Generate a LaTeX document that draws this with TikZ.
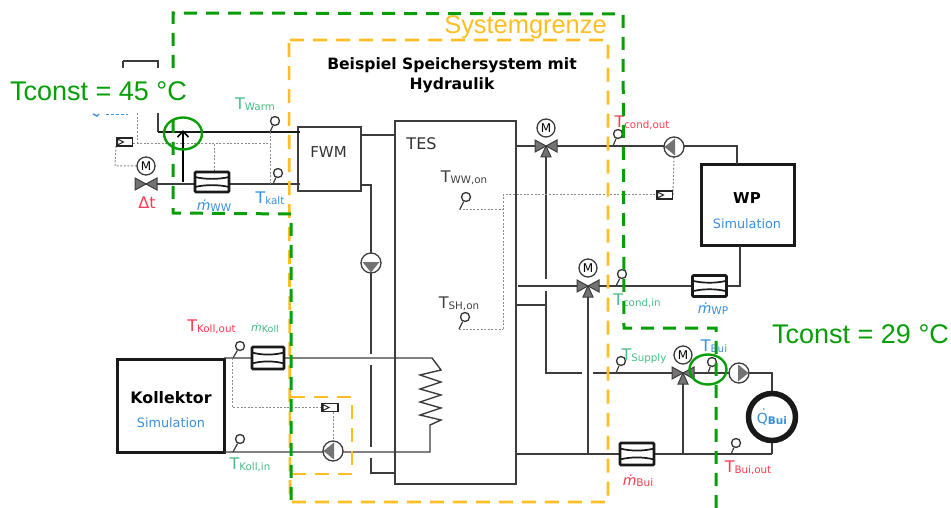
\documentclass[tikz,border=0pt]{standalone}
\usepackage{fontspec}
\setmainfont{DejaVu Sans}
\newfontfamily\arialf{Liberation Sans}
\usetikzlibrary{arrows.meta,shapes.geometric}
\definecolor{grn}{HTML}{089E08}
\definecolor{org}{HTML}{FFBE22}
\definecolor{lred}{HTML}{FF3A50}
\definecolor{lgrn}{HTML}{46BE86}
\definecolor{lblu}{HTML}{3A8FDC}
\definecolor{pipec}{HTML}{3C3C3C}
\tikzset{
  x=1pt,y=-1pt,
  pipe/.style={draw=pipec,line width=1.4pt},
  boldpipe/.style={draw=black!90,line width=2.2pt},
  signal/.style={draw=black!45,line width=1pt,dash pattern=on 2pt off 1.6pt},
  bigbox/.style={draw=black!90,line width=3pt,fill=white,inner sep=0pt},
  thinbox/.style={draw=pipec,line width=1.5pt,fill=white,inner sep=0pt},
  sensorhead/.style={circle,draw=black!80,line width=1.3pt,fill=white,minimum size=9pt,inner sep=0pt},
  pumpc/.style={circle,draw=pipec,line width=1.3pt,fill=white,minimum size=20pt,inner sep=0pt},
  motor/.style={circle,draw=pipec,line width=1.3pt,fill=white,minimum size=18pt,inner sep=0pt,font=\fontsize{12}{12}\selectfont},
  flowb/.style={draw=black!90,line width=2.6pt,fill=white,rounded corners=1pt,inner sep=0pt},
  ctrl/.style={draw=black!85,line width=1.3pt,fill=white,minimum width=16pt,minimum height=8pt,inner sep=0pt},
  greenline/.style={draw=grn,line width=3pt,dash pattern=on 13pt off 9pt},
  orangeline/.style={draw=org,line width=2.6pt,dash pattern=on 14pt off 9pt},
  lab/.style={inner sep=0pt,anchor=center},
  tconst/.style={inner sep=0pt,text=grn,font=\arialf\fontsize{27}{27}\selectfont},
  boxlab/.style={inner sep=0pt,font=\fontsize{12.8}{12.8}\selectfont,text=lblu},
}
\newcommand{\Tlab}[5]{\node[lab,text=#4] (#1) at (#2,#3) {\fontsize{16}{16}\selectfont T\fontsize{10.3}{10.3}\selectfont\raisebox{-1pt}{#5}};}
\newcommand{\Mlab}[5]{\node[lab,text=#4] (#1) at (#2,#3) {\fontsize{14}{14}\selectfont\itshape ṁ\upshape\fontsize{10.5}{10.5}\selectfont\raisebox{-1pt}{#5}};}
\newcommand{\Mlabs}[5]{\node[lab,text=#4] (#1) at (#2,#3) {\fontsize{11}{11}\selectfont\itshape ṁ\upshape\fontsize{9.5}{9.5}\selectfont\raisebox{-1pt}{#5}};}
\newcommand{\senso}[5]{\node[sensorhead] (#1) at (#2,#3) {};\coordinate (#1f) at (#4,#5);\draw[pipe,line width=1.2pt] (#1) -- (#1f);}
\newcommand{\pumpe}[4]{\node[pumpc] (#1) at (#2,#3) {};
  \fill[black!55,rotate around={#4:(#2,#3)}] (#2-9.5,#3) -- (#2+1,#3-8.5) -- (#2+1,#3+8.5) -- cycle;}
\newcommand{\durchfl}[5]{\node[flowb,minimum width=#4pt,minimum height=#5pt] (#1) at (#2,#3) {};
  \draw[black!90,line width=1.7pt] (#2-#4/2,#3-#5/4) .. controls (#2-#4/5,#3-#5/8) and (#2+#4/5,#3-#5/8) .. (#2+#4/2,#3-#5/4);
  \draw[black!90,line width=1.7pt] (#2-#4/2,#3+#5/4) .. controls (#2-#4/5,#3+#5/8) and (#2+#4/5,#3+#5/8) .. (#2+#4/2,#3+#5/4);}
\newcommand{\ventilLR}[3]{\coordinate (#1) at (#2,#3);
  \draw[pipec,fill=black!55,line width=1pt] (#2,#3) -- (#2-11,#3-6) -- (#2-11,#3+6) -- cycle;
  \draw[pipec,fill=black!55,line width=1pt] (#2,#3) -- (#2+11,#3-6) -- (#2+11,#3+6) -- cycle;}
\newcommand{\ventilB}[3]{\draw[pipec,fill=black!55,line width=1pt] (#2,#3) -- (#2-5,#3+11) -- (#2+5,#3+11) -- cycle;}
\newcommand{\regler}[4]{\node[ctrl] (#1) at (#2,#3) {};
  \draw[black!85,line width=1pt] (#2+#4*7,#3-3) -- (#2+#4*1,#3) -- (#2+#4*7,#3+3) -- cycle;}
\begin{document}
\begin{tikzpicture}
\useasboundingbox (0,0) rectangle (951,508);
\fill[white] (0,0) rectangle (951,508);

% --- TES, FWM, machines
\node[thinbox,minimum width=121pt,minimum height=363pt] (tes) at (455.5,302.5) {};
\node[inner sep=0pt,text=black!80,font=\fontsize{16}{16}\selectfont] (teslab) at (421.5,144) {TES};
\node[thinbox,minimum width=63pt,minimum height=64pt] (fwm) at (329.5,159) {};
\node[inner sep=0pt,text=black!80,font=\fontsize{15}{15}\selectfont] (fwmlab) at (328.5,152) {FWM};
\node[bigbox,minimum width=93pt,minimum height=81pt] (wp) at (747.5,205) {};
\node[inner sep=0pt,font=\bfseries\fontsize{15}{15}\selectfont] (wplab) at (747,198) {WP};
\node[boxlab] (wpsim) at (747,224) {Simulation};
\node[bigbox,minimum width=107pt,minimum height=93pt] (koll) at (170.5,405.5) {};
\node[inner sep=0pt,font=\bfseries\fontsize{15.8}{15.8}\selectfont] (kolllab) at (171,398) {Kollektor};
\node[boxlab] (kollsim) at (171,423) {Simulation};

% --- junction points
\coordinate (a1) at (158,132);
\coordinate (a2) at (158,113);
\coordinate (a3) at (158,61);
\coordinate (a4) at (123,61);
\coordinate (a5) at (123,68);
\coordinate (a6) at (158,68);
\coordinate (fwmW) at (300,132);
\coordinate (fwmK) at (300,184);
\coordinate (v1) at (146,184);
\coordinate (b1) at (361,135);
\coordinate (b2) at (395,135);
\coordinate (c1) at (361,185);
\coordinate (c2) at (371,185);
\coordinate (c3) at (371,354);
\coordinate (c4) at (371,365);
\coordinate (c5) at (371,447);
\coordinate (c6) at (371,458);
\coordinate (c7) at (371,473);
\coordinate (c8) at (395,473);
\coordinate (d1) at (516,146);
\coordinate (d2) at (737,146);
\coordinate (d3) at (737,164);
\coordinate (e1) at (518,286);
\coordinate (e2) at (740,286);
\coordinate (e3) at (740,246);
\coordinate (f1) at (516,305);
\coordinate (f2) at (546,305);
\coordinate (g1) at (546,279);
\coordinate (g2) at (546,291);
\coordinate (g3) at (546,373);
\coordinate (g4) at (582,373);
\coordinate (g5) at (593,373);
\coordinate (h1) at (588,454);
\coordinate (i1) at (516,454);
\coordinate (i2) at (772,454);
\coordinate (i3) at (683,454);
\coordinate (j1) at (772,373);
\coordinate (k1) at (224,358);
\coordinate (k2) at (432,358);
\coordinate (k3) at (430,425);
\coordinate (k4) at (430,452);
\coordinate (k5) at (224,452);

% --- pipes
\draw[pipe] (a4) -- (a5);
\draw[pipe] (a4) -- (a3) -- (a6);
\draw[pipe] (a2) -- (a1);
\draw[boldpipe] (a1) -- (fwmW);
\draw[pipe] (v1) -- (fwmK);
\draw[pipe] (b1) -- (b2);
\draw[pipe] (c1) -- (c2) -- (c3);
\draw[pipe] (c4) -- (c5);
\draw[pipe] (c6) -- (c7) -- (c8);
\draw[pipe] (d1) -- (d2) -- (d3);
\draw[pipe] (e1) -- (e2) -- (e3);
\draw[pipe] (f1) -- (f2);
\draw[pipe] (546,146) -- (g1);
\draw[pipe] (g2) -- (g3) -- (g4);
\draw[pipe] (g5) -- (683,373);
\draw[pipe] (588,286) -- (h1);
\draw[pipe] (i1) -- (i2);
\draw[pipe] (683,373) -- (i3);
\draw[pipe] (683,373) -- (739,373);
\draw[pipe] (739,373) -- (j1) -- (772,392);
\draw[pipe] (772,442) -- (i2);
\draw[pipe] (k1) -- (k2) -- (441,370) -- (420,375) -- (441,382) -- (420,389) -- (441,395) -- (420,402) -- (441,408) -- (420,415) -- (441,420) -- (k3) -- (k4) -- (k5);

% --- signal lines
\coordinate (s1) at (137,113);
\coordinate (s2) at (137,144);
\coordinate (s3) at (270,144);
\coordinate (s4) at (214,144);
\coordinate (s5) at (270,132);
\coordinate (s6) at (270,184);
\coordinate (s7) at (115,166);
\coordinate (s8) at (503,195);
\coordinate (s9) at (503,329);
\coordinate (s10) at (503,209);
\coordinate (s11) at (232,407);
\coordinate (s12) at (232,358);
\draw[signal] (s1) -- (s2);
\draw[signal] (133,144) -- (s3);
\draw[signal] (s5) -- (s6);
\draw[signal] (s4) -- (214,172);
\draw[signal] (116,146) -- (s7) -- (137,166);
\draw[signal] (s9) -- (s8) -- (656,195);
\draw[signal] (673,195) -- (674,157);
\draw[signal] (459,209) -- (s10);
\draw[signal] (459,329) -- (s9);
\draw[signal] (s12) -- (s11) -- (322,407);
\draw[signal] (333,412) -- (333,441);

% --- valves with motors
\ventilLR{v1}{146}{184}
\node[motor] (m1) at (146,166) {M};
\ventilLR{v2}{546}{146}\ventilB{v2b}{546}{146}
\node[motor] (m2) at (546,128) {M};
\ventilLR{v3}{588}{286}\ventilB{v3b}{588}{286}
\node[motor] (m3) at (588,268) {M};
\ventilLR{v4}{683}{373}\ventilB{v4b}{683}{373}
\node[motor] (m4) at (683,355) {M};

% --- pumps
\pumpe{p1}{371}{263}{90}
\pumpe{p2}{674}{147}{0}
\pumpe{p3}{333}{451}{0}
\pumpe{p4}{739}{373}{180}

% --- controllers
\regler{r1}{124.5}{142}{-1}
\regler{r2}{664.5}{195}{-1}
\regler{r3}{330}{407.5}{-1}

% --- flow meters
\durchfl{fm1}{212}{182}{34}{20}
\durchfl{fm2}{268}{358}{32}{22}
\durchfl{fm3}{709.5}{286}{34}{21}
\durchfl{fm4}{637}{454}{34}{22}

% --- building load
\node[circle,draw=black!90,line width=5.5pt,fill=white,minimum size=47pt,inner sep=0pt,text=lblu] (bui) at (772,417) {\fontsize{14}{14}\selectfont\makebox[0pt][l]{\hspace{3.4pt}\raisebox{3.5pt}{˙}}Q\fontsize{10.5}{10.5}\selectfont\raisebox{-1pt}{\bfseries Bui}};

% --- sensors
\senso{t1}{275}{121}{270}{132}
\senso{t2}{278}{173}{273}{184}
\senso{t3}{466}{197}{460}{209}
\senso{t4}{465}{317}{459}{329}
\senso{t5}{618}{134}{613}{146}
\senso{t6}{622}{274}{616}{286}
\senso{t7}{621}{361}{616}{373}
\senso{t8}{712}{362}{708}{373}
\senso{t9}{736}{443}{731}{454}
\senso{t10}{240}{346}{233}{358}
\senso{t11}{240}{439}{233}{452}

% --- labels
\node[align=center,inner sep=0pt,font=\bfseries\fontsize{15.6}{20}\selectfont] (title) at (452,75) {Beispiel Speichersystem mit\\Hydraulik};
\Tlab{l1}{255}{104}{lgrn}{Warm}
\Tlab{l2}{270}{198}{lblu}{kalt}
\Mlab{l3}{214}{206}{lblu}{WW}
\node[inner sep=0pt,text=lred,font=\fontsize{16}{16}\selectfont] (l4) at (147,203) {Δt};
\Tlab{l5}{464}{178}{black!75}{WW,on}
\Tlab{l6}{459}{304}{black!75}{SH,on}
\Tlab{l7}{642}{123}{lred}{cond,out}
\Tlab{l8}{637}{301}{lgrn}{cond,in}
\Mlab{l9}{713}{309}{lblu}{WP}
\Tlab{l10}{644}{356}{lgrn}{Supply}
\Tlab{l11}{714}{346}{lblu}{Bui}
\Tlab{l12}{748}{468}{lred}{Bui,out}
\Mlab{l13}{638}{481}{lred}{Bui}
\Tlab{l14}{211.5}{327}{lred}{Koll,out}
\Mlabs{l15}{265}{328}{lgrn}{Koll}
\Tlab{l16}{250}{465}{lgrn}{Koll,in}

% --- system boundaries
\coordinate (o1) at (289,40);
\coordinate (o2) at (608,40);
\coordinate (o3) at (608,502);
\coordinate (o4) at (290,502);
\draw[orangeline,rounded corners=1pt] (o1) -- (o2) -- (o3) -- (o4) -- cycle;
\coordinate (o5) at (291,397);
\coordinate (o6) at (352,397);
\coordinate (o7) at (352,474);
\coordinate (o8) at (291,474);
\draw[orangeline] (o5) -- (o6) -- (o7) -- (o8);
\node[inner sep=0pt,text=org,font=\arialf\fontsize{25.4}{25.4}\selectfont] (sg) at (525.5,27) {Systemgrenze};

\coordinate (g01) at (173,122);
\coordinate (g02) at (173,13);
\coordinate (g03) at (623,14);
\coordinate (g04) at (624,328);
\coordinate (g05) at (716,328);
\coordinate (g06) at (716,508);
\coordinate (g07) at (173,213);
\coordinate (g08) at (291,214);
\coordinate (g09) at (291,508);
\draw[greenline] (173,68) -- (g02) -- (g03) -- (g04) -- (g05) -- (g06);
\draw[greenline] (173,120) -- (g07) -- (g08) -- (g09);

% --- overlay with constant temperature note
\fill[white] (0,68) rectangle (190,112);
\node[tconst] (tc1) at (98.5,91) {Tconst = 45 °C};
\node[tconst] (tc2) at (860.5,334) {Tconst = 29 °C};
\draw[lblu,line width=1.4pt] (93,114) -- (97,116) -- (99,114);
\draw[lblu,line width=1.8pt,dash pattern=on 3pt off 2pt] (106,114.5) -- (128,114.5);

\coordinate (ar1) at (183,182);
\coordinate (ar2) at (183,130);
\draw[black,line width=2pt,-{Straight Barb[length=6pt,width=11pt,line width=1.6pt]}] (ar1) -- (ar2);
\node[ellipse,draw=grn,line width=2.4pt,minimum width=38pt,minimum height=32pt,inner sep=0pt] (el1) at (183,133.5) {};
\node[ellipse,draw=grn,line width=2.4pt,minimum width=37pt,minimum height=30pt,inner sep=0pt] (el2) at (708,369.5) {};
\end{tikzpicture}
\end{document}
